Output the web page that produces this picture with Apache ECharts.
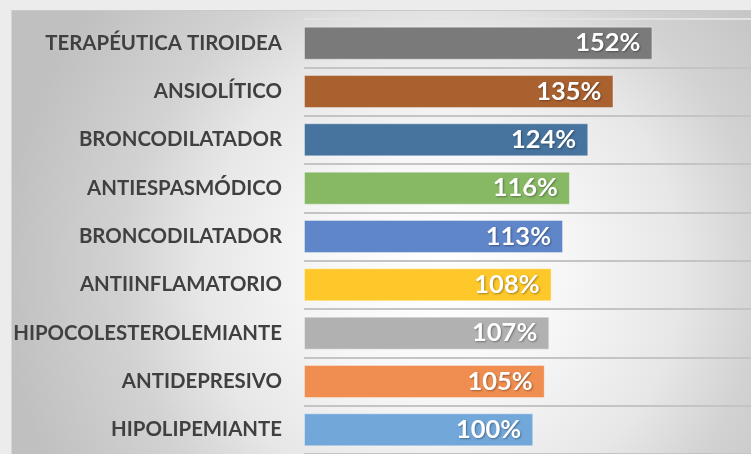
<!DOCTYPE html>
<html>
<head>
<meta charset="utf-8">
<script src="https://cdn.jsdelivr.net/npm/echarts@6/dist/echarts.min.js"></script>
<style>
html,body{margin:0;padding:0;background:#ececec;width:751px;height:454px;overflow:hidden;}
#bg{position:absolute;left:11px;top:10px;right:0;bottom:0;border-top:1px solid #cacaca;border-left:1px solid #d6d6d6;
background:radial-gradient(circle at 430px 260px,#ffffff 0px,#f7f7f7 120px,#e7e7e7 240px,#d2d2d2 320px,#c0c0c0 440px);}
#chart{position:absolute;left:0;top:0;width:751px;height:454px;}
</style>
</head>
<body>
<div id="bg"></div>
<div id="chart"></div>
<script>
var categories = ['TERAPÉUTICA TIROIDEA','ANSIOLÍTICO','BRONCODILATADOR','ANTIESPASMÓDICO','BRONCODILATADOR','ANTIINFLAMATORIO','HIPOCOLESTEROLEMIANTE','ANTIDEPRESIVO','HIPOLIPEMIANTE'];
var values = [152,135,124,116,113,108,107,105,100];
var colors = ['#7a7a7a','#a9612f','#46749f','#87b965','#5f86c9','#fec82a','#b1b1b1','#ef8e50','#72a7d9'];

var chart = echarts.init(document.getElementById('chart'), null, {renderer:'canvas'});
chart.setOption({
  backgroundColor:'transparent',
  animation:false,
  grid:{left:304,right:0,top:19,height:440,containLabel:false},
  xAxis:{type:'value',min:0,max:195,show:false},
  yAxis:{
    type:'category',inverse:true,data:categories,
    axisLine:{show:false},axisTick:{show:false},
    axisLabel:{margin:22,color:'#404040',fontFamily:'Lato',fontWeight:'bold',fontSize:20.4},
    splitLine:{show:true,lineStyle:{color:['#e2e2e2','#c4c4c4','#c4c4c4','#c4c4c4','#c4c4c4','#c4c4c4','#c4c4c4','#c4c4c4','#c4c4c4','#c4c4c4'],width:2}}
  },
  series:[{
    type:'bar',barWidth:33,
    data:values.map(function(v,i){return {value:v,itemStyle:{color:colors[i],borderColor:'rgba(255,255,255,0.35)',borderWidth:1}};}),
    label:{show:true,position:'insideRight',distance:12,formatter:'{c}%',color:'#ffffff',fontFamily:'Lato',fontWeight:'bold',fontSize:25.5,
      textShadowColor:'rgba(0,0,0,0.35)',textShadowBlur:2,textShadowOffsetX:1,textShadowOffsetY:1}
  }]
});
</script>
</body>
</html>
